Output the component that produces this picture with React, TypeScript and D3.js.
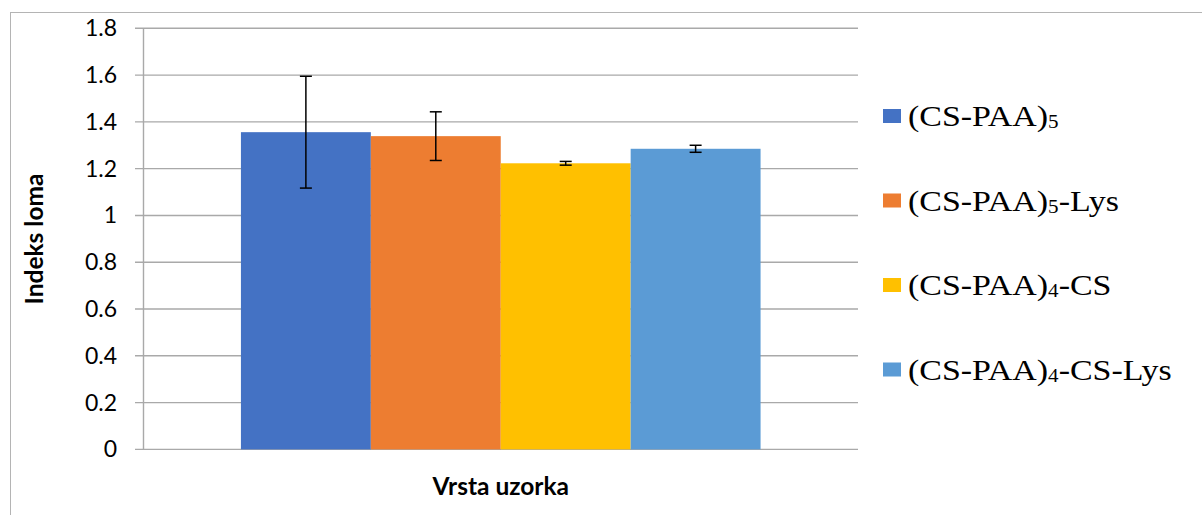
import * as d3 from "d3";

const categories = ["Vrsta uzorka"];
const seriesNames = ["(CS-PAA)5", "(CS-PAA)5-Lys", "(CS-PAA)4-CS", "(CS-PAA)4-CS-Lys"];
const seriesValues = [1.356, 1.339, 1.223, 1.285];
const seriesErrors = [0.239, 0.104, 0.008, 0.015];
const seriesColors = ["#4472C4", "#ED7D31", "#FFC000", "#5B9BD5"];
const yTicks = [0, 0.2, 0.4, 0.6, 0.8, 1, 1.2, 1.4, 1.6, 1.8];

// legend label pieces: [main, subscript, rest]
const legendParts: [string, string, string][] = [
    ["(CS-PAA)", "5", ""],
    ["(CS-PAA)", "5", "-Lys"],
    ["(CS-PAA)", "4", "-CS"],
    ["(CS-PAA)", "4", "-CS-Lys"],
];

function App() {
    const width = 1202
    const height = 515
    const plot = { left: 143.5, right: 858, top: 28.3, bottom: 449.4 }

    const y = d3.scaleLinear().domain([0, 1.8]).range([plot.bottom, plot.top])
    const xCat = d3.scaleBand().domain(categories).range([plot.left, plot.right])
    const xSeries = d3.scaleBand().domain(seriesNames)
        .range([xCat(categories[0])!, xCat(categories[0])! + xCat.bandwidth()])
        .paddingInner(0).paddingOuter(0.75)

    const tickFont = "Lato, 'Open Sans', sans-serif"
    const gridColor = "#a9a9a9"

    return (
        <svg width={width} height={height} style={{ position: "absolute", left: 0, top: 0, background: "#ffffff" }}>
            <rect x={10.5} y={12.5} width={1300} height={600} fill="none" stroke="#b4b4b4" strokeWidth={1}/>

            {/* gridlines + tick marks */}
            {yTicks.map((t) => (
                <line key={t} x1={plot.left - 8.5} x2={plot.right} y1={y(t)} y2={y(t)} stroke={gridColor} strokeWidth={1.4}/>
            ))}
            <line x1={plot.left} x2={plot.left} y1={plot.top} y2={plot.bottom} stroke={gridColor} strokeWidth={1.4}/>

            {yTicks.map((t) => (
                <text key={t} x={117} y={y(t) + 8} textAnchor="end" fontSize={23} fontFamily={tickFont} fill="#000">{t.toString()}</text>
            ))}

            {/* bars */}
            {seriesNames.map((s, i) => (
                <rect key={s} x={xSeries(s)!} y={y(seriesValues[i])} width={xSeries.bandwidth()} height={y(0) - y(seriesValues[i])} fill={seriesColors[i]}/>
            ))}

            {/* error bars */}
            {seriesNames.map((s, i) => {
                const cx = xSeries(s)! + xSeries.bandwidth() / 2
                const hi = y(seriesValues[i] + seriesErrors[i])
                const lo = y(seriesValues[i] - seriesErrors[i])
                return (
                    <g key={s} stroke="#000" strokeWidth={1.5}>
                        <line x1={cx} x2={cx} y1={hi} y2={lo}/>
                        <line x1={cx - 6} x2={cx + 6} y1={hi} y2={hi}/>
                        <line x1={cx - 6} x2={cx + 6} y1={lo} y2={lo}/>
                    </g>
                )
            })}

            {/* axis titles */}
            <text transform={`translate(43, 239) rotate(-90)`} textAnchor="middle" fontSize={24.5} fontWeight="bold" fontFamily={tickFont}>Indeks loma</text>
            <text x={(plot.left + plot.right) / 2} y={495} textAnchor="middle" fontSize={24.5} fontWeight="bold" fontFamily={tickFont}>Vrsta uzorka</text>

            {/* legend */}
            {seriesNames.map((s, i) => {
                const cy = 116 + i * 84.5
                const [main, sub, rest] = legendParts[i]
                return (
                    <g key={s}>
                        <rect x={883} y={cy - 7} width={18} height={14} fill={seriesColors[i]}/>
                        <g transform={`translate(908, ${cy + 10}) scale(1.17, 1)`}>
                            <text x={0} y={0} fontSize={29} fontFamily="'Liberation Serif', 'DejaVu Serif', serif" fill="#000">
                                {main}
                                <tspan fontSize={18} dy={2}>{sub}</tspan>
                                <tspan dy={-2}>{rest}</tspan>
                            </text>
                        </g>
                    </g>
                )
            })}
        </svg>
    )
}

export default App;
